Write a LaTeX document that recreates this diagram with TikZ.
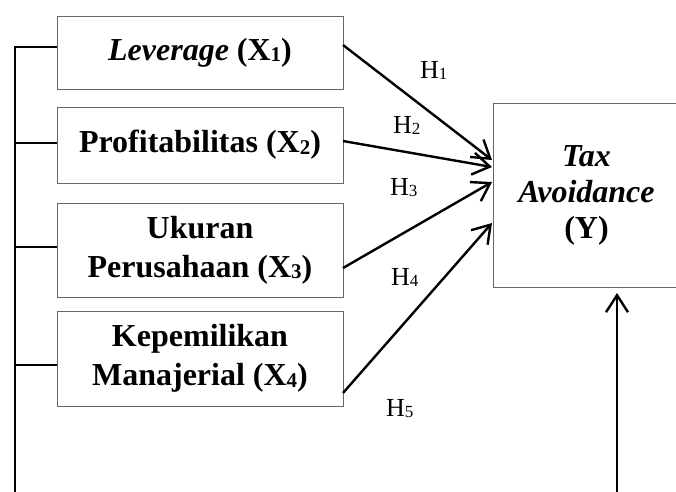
\documentclass[tikz,border=0pt]{standalone}
\usepackage{fontspec}
\setmainfont{Liberation Serif}
\usetikzlibrary{arrows.meta}
\newcommand\sbx[1]{\raisebox{-1.5pt}{\fontsize{21}{21}\selectfont #1}}
\newcommand\sbh[1]{\raisebox{-1.5pt}{\fontsize{17}{17}\selectfont #1}}
\begin{document}
\begin{tikzpicture}[x=1pt,y=-1pt,
  varbox/.style={draw=black!60,line width=1pt,minimum width=286pt,align=center,inner sep=0pt,
    font=\fontsize{32}{39}\selectfont\bfseries},
  link/.style={line width=2.4pt,black},
  arr/.style={line width=2.4pt,black,-{Straight Barb[length=17pt,width=22pt,line width=2.4pt]}},
  hlab/.style={anchor=base west,inner sep=0pt,font=\fontsize{26}{30}\selectfont}]
\useasboundingbox (0,0) rectangle (676,491);
\node[varbox,minimum height=73pt] (b1) at (200,52.5) {\textit{Leverage} (X\sbx{1})};
\node[varbox,minimum height=76pt] (b2) at (200,145) {Profitabilitas (X\sbx{2})};
\node[varbox,minimum height=94pt] (b3) at (200,250) {Ukuran\\Perusahaan (X\sbx{3})};
\node[varbox,minimum height=95pt] (b4) at (200,358.5) {Kepemilikan\\Manajerial (X\sbx{4})};
\node[varbox,minimum width=187pt,minimum height=184pt,font=\fontsize{32}{36}\selectfont\bfseries] (y) at (586.5,195) {\textit{Tax}\\\textit{Avoidance}\\(Y)};
% left bus
\coordinate (top) at (15,46);
\coordinate (bot) at (15,493);
\draw[link] (top) -- (bot);
\coordinate (l1) at (15,47);
\coordinate (l2) at (15,143);
\coordinate (l3) at (15,247);
\coordinate (l4) at (15,365);
\draw[link] (l1) -- (l1 -| b1.west);
\draw[link] (l2) -- (l2 -| b2.west);
\draw[link] (l3) -- (l3 -| b3.west);
\draw[link] (l4) -- (l4 -| b4.west);
% arrows
\coordinate (s1) at (343,45);
\coordinate (s2) at (343,141);
\coordinate (s3) at (343,268);
\coordinate (s4) at (343,393);
\coordinate (e1) at (492,160);
\coordinate (e2) at (492,167);
\coordinate (e3) at (492,182);
\coordinate (e4) at (492,223);
\draw[arr] (s1) -- (e1);
\draw[arr] (s2) -- (e2);
\draw[arr] (s3) -- (e3);
\draw[arr] (s4) -- (e4);
\coordinate (ub) at (617,493);
\coordinate (ut) at (617,293);
\draw[arr] (ub) -- (ut);
% labels
\node[hlab] (h1) at (420,78) {H\sbh{1}};
\node[hlab] (h2) at (393,133) {H\sbh{2}};
\node[hlab] (h3) at (390,195) {H\sbh{3}};
\node[hlab] (h4) at (391,285) {H\sbh{4}};
\node[hlab] (h5) at (386,416) {H\sbh{5}};
\end{tikzpicture}
\end{document}
